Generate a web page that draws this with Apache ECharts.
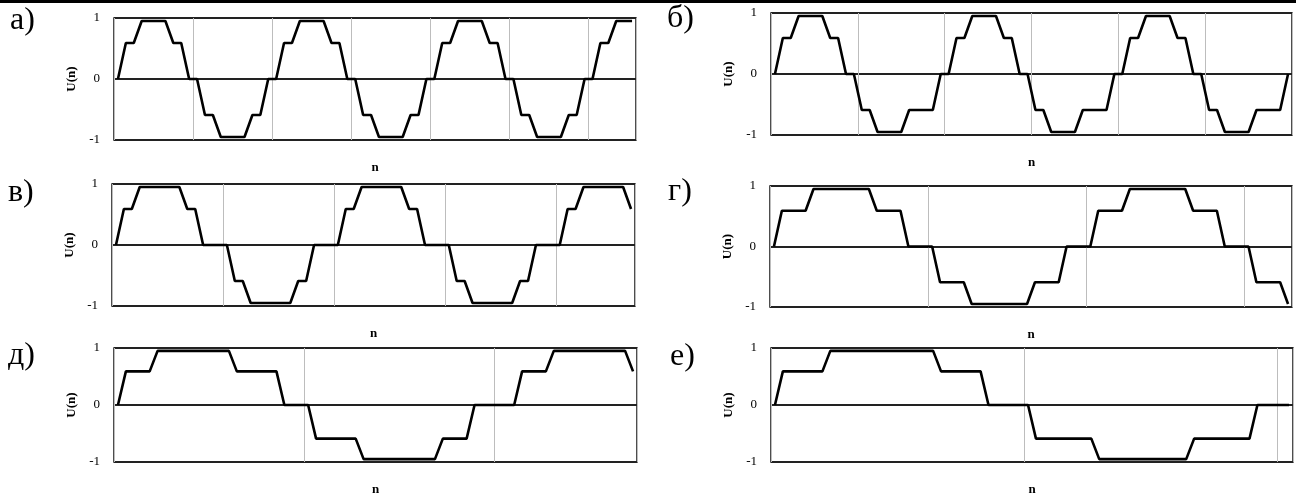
<!DOCTYPE html>
<html>
<head>
<meta charset="utf-8">
<script src="https://cdn.jsdelivr.net/npm/echarts@6/dist/echarts.min.js"></script>
<style>
html,body{margin:0;padding:0;background:#fff;}
#chart{width:1296px;height:497px;}
</style>
</head>
<body>
<div id="chart"></div>
<script>
// categories: sample index n
const nCats = [
  0,1,2,3,4,5,6,7,8,9,10,11,12,13,14,15,16,17,18,19,
  20,21,22,23,24,25,26,27,28,29,30,31,32,33,34,35,36,37,38,39,
  40,41,42,43,44,45,46,47,48,49,50,51,52,53,54,55,56,57,58,59,
  60,61,62,63,64,65
];
const yTicks = [-1, 0, 1];
const panelLabels = ['а)', 'б)', 'в)', 'г)', 'д)', 'е)'];

// а)
const uA = [
  0, 0.59, 0.59, 0.95, 0.95, 0.95, 0.95, 0.59, 0.59, 0,
  0, -0.59, -0.59, -0.95, -0.95, -0.95, -0.95, -0.59, -0.59, 0,
  0, 0.59, 0.59, 0.95, 0.95, 0.95, 0.95, 0.59, 0.59, 0,
  0, -0.59, -0.59, -0.95, -0.95, -0.95, -0.95, -0.59, -0.59, 0,
  0, 0.59, 0.59, 0.95, 0.95, 0.95, 0.95, 0.59, 0.59, 0,
  0, -0.59, -0.59, -0.95, -0.95, -0.95, -0.95, -0.59, -0.59, 0,
  0, 0.59, 0.59, 0.95, 0.95, 0.95
];
// б)
const uB = [
  0, 0.59, 0.59, 0.95, 0.95, 0.95, 0.95, 0.59, 0.59, 0, 0,
  -0.59, -0.59, -0.95, -0.95, -0.95, -0.95, -0.59, -0.59, -0.59, -0.59, 0,
  0, 0.59, 0.59, 0.95, 0.95, 0.95, 0.95, 0.59, 0.59, 0, 0,
  -0.59, -0.59, -0.95, -0.95, -0.95, -0.95, -0.59, -0.59, -0.59, -0.59, 0,
  0, 0.59, 0.59, 0.95, 0.95, 0.95, 0.95, 0.59, 0.59, 0, 0,
  -0.59, -0.59, -0.95, -0.95, -0.95, -0.95, -0.59, -0.59, -0.59, -0.59, 0
];
// в)
const uC = [
  0, 0.59, 0.59, 0.95, 0.95, 0.95, 0.95, 0.95, 0.95, 0.59, 0.59, 0, 0, 0,
  0, -0.59, -0.59, -0.95, -0.95, -0.95, -0.95, -0.95, -0.95, -0.59, -0.59, 0, 0, 0,
  0, 0.59, 0.59, 0.95, 0.95, 0.95, 0.95, 0.95, 0.95, 0.59, 0.59, 0, 0, 0,
  0, -0.59, -0.59, -0.95, -0.95, -0.95, -0.95, -0.95, -0.95, -0.59, -0.59, 0, 0, 0,
  0, 0.59, 0.59, 0.95, 0.95, 0.95, 0.95, 0.95, 0.95, 0.59
];
// г)
const uD = [
  0, 0.59, 0.59, 0.59, 0.59, 0.95, 0.95, 0.95, 0.95, 0.95, 0.95, 0.95, 0.95, 0.59, 0.59, 0.59, 0.59, 0, 0, 0,
  0, -0.59, -0.59, -0.59, -0.59, -0.95, -0.95, -0.95, -0.95, -0.95, -0.95, -0.95, -0.95, -0.59, -0.59, -0.59, -0.59, 0, 0, 0,
  0, 0.59, 0.59, 0.59, 0.59, 0.95, 0.95, 0.95, 0.95, 0.95, 0.95, 0.95, 0.95, 0.59, 0.59, 0.59, 0.59, 0, 0, 0,
  0, -0.59, -0.59, -0.59, -0.59, -0.95
];
// д)
const uE = [
  0, 0.59, 0.59, 0.59, 0.59,
  0.95, 0.95, 0.95, 0.95, 0.95, 0.95, 0.95, 0.95, 0.95, 0.95,
  0.59, 0.59, 0.59, 0.59, 0.59, 0.59,
  0, 0, 0, 0,
  -0.59, -0.59, -0.59, -0.59, -0.59, -0.59,
  -0.95, -0.95, -0.95, -0.95, -0.95, -0.95, -0.95, -0.95, -0.95, -0.95,
  -0.59, -0.59, -0.59, -0.59,
  0, 0, 0, 0, 0, 0,
  0.59, 0.59, 0.59, 0.59,
  0.95, 0.95, 0.95, 0.95, 0.95, 0.95, 0.95, 0.95, 0.95, 0.95,
  0.59
];
// е)
const uF = [
  0, 0.59, 0.59, 0.59, 0.59, 0.59, 0.59,
  0.95, 0.95, 0.95, 0.95, 0.95, 0.95, 0.95, 0.95, 0.95, 0.95, 0.95, 0.95, 0.95, 0.95,
  0.59, 0.59, 0.59, 0.59, 0.59, 0.59,
  0, 0, 0, 0, 0, 0,
  -0.59, -0.59, -0.59, -0.59, -0.59, -0.59, -0.59, -0.59,
  -0.95, -0.95, -0.95, -0.95, -0.95, -0.95, -0.95, -0.95, -0.95, -0.95, -0.95, -0.95,
  -0.59, -0.59, -0.59, -0.59, -0.59, -0.59, -0.59, -0.59,
  0, 0, 0, 0, 0
];
// vertical grid line every k samples
const gridEvery = [10, 11, 14, 20, 24, 32];

const allSeries = [uA, uB, uC, uD, uE, uF];

// layout (px)
const grids = [
  {left: 114, top: 18,  width: 522, height: 122},
  {left: 771, top: 13,  width: 521, height: 122},
  {left: 112, top: 184, width: 523, height: 122},
  {left: 770, top: 186, width: 522, height: 121},
  {left: 114, top: 348, width: 523, height: 122},
  {left: 771, top: 348, width: 522, height: 122}
];
const labelPos = [[10, 22], [667, 20], [8, 194], [668, 193], [8, 357], [670, 358]];

const FONT = 'Liberation Serif';

const option = {
  animation: false,
  backgroundColor: '#fff',
  grid: grids.map(g => Object.assign({show: true, borderColor: '#222', borderWidth: 1.6, backgroundColor: 'transparent'}, g)),
  xAxis: grids.map((g, i) => ({
    type: 'category',
    gridIndex: i,
    data: nCats,
    boundaryGap: true,
    name: 'n',
    nameLocation: 'middle',
    nameGap: 21,
    nameTextStyle: {fontFamily: FONT, fontWeight: 'bold', fontSize: 13, color: '#000'},
    axisLine: {show: false},
    axisTick: {show: false, interval: gridEvery[i] - 1},
    axisLabel: {show: false, interval: gridEvery[i] - 1},
    splitLine: {show: true, interval: gridEvery[i] - 1, lineStyle: {color: '#bdbdbd', width: 1}}
  })),
  yAxis: grids.map((g, i) => ({
    type: 'value',
    gridIndex: i,
    min: yTicks[0],
    max: yTicks[yTicks.length - 1],
    interval: 1,
    name: 'U(n)',
    nameLocation: 'middle',
    nameGap: 36,
    nameRotate: 90,
    nameTextStyle: {fontFamily: FONT, fontWeight: 'bold', fontSize: 13, color: '#000'},
    axisLine: {show: false},
    axisTick: {show: false},
    axisLabel: {fontFamily: FONT, fontSize: 13, color: '#000', margin: 14},
    splitLine: {show: true, lineStyle: {color: '#222', width: 2}}
  })),
  series: allSeries.map((d, i) => ({
    type: 'line',
    xAxisIndex: i,
    yAxisIndex: i,
    data: d,
    symbol: 'none',
    lineStyle: {color: '#000', width: 2.6},
    z: 5
  })),
  graphic: [
    {type: 'rect', shape: {x: 0, y: 0, width: 1296, height: 3}, style: {fill: '#000'}, z: 10}
  ].concat(panelLabels.map((t, i) => ({
    type: 'text',
    left: labelPos[i][0],
    top: labelPos[i][1] - 17,
    style: {text: t, font: '32px "' + FONT + '"', fill: '#000'}
  })))
};

const chart = echarts.init(document.getElementById('chart'), null, {renderer: 'canvas'});
chart.setOption(option);
</script>
</body>
</html>
